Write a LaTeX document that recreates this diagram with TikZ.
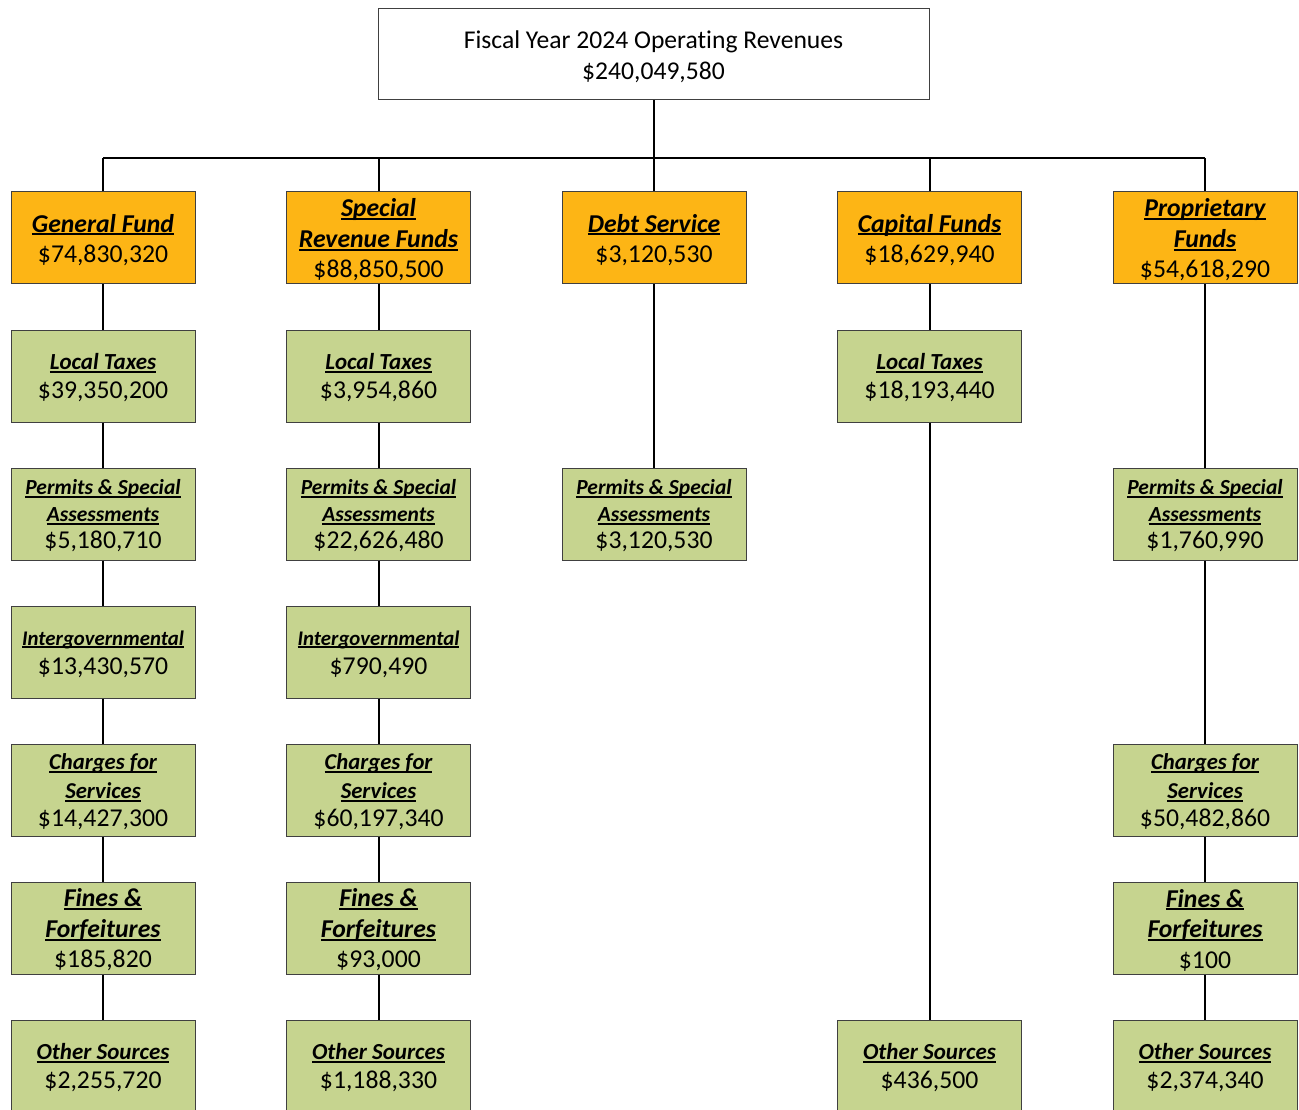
\documentclass[tikz,border=0pt]{standalone}
\usepackage{fontspec}
\setmainfont{Carlito}[Ligatures=NoCommon]
\definecolor{fundc}{HTML}{FDB515}
\definecolor{srcc}{HTML}{C6D48F}
\definecolor{edgec}{HTML}{404040}
\newcommand\myul[1]{\setbox0\hbox{#1}\rlap{\rule[-3.2pt]{\wd0}{2pt}}\box0}
\newcommand\hd[1]{{\bfseries\itshape\myul{#1}}}
\newcommand\tl[2]{{\fontsize{#1}{#1}\selectfont\hd{#2}}}
% \bx[style]{name}{x,y}{text}: box node plus its text, set 2px lower
\newcommand\bx[4][]{%
  \node[box,#1] (#2) at (#3) {};
  \node[box,#1,draw=none,fill=none,minimum width=0pt,minimum height=0pt] at ([yshift=-2pt]#2.center) {#4};}
\begin{document}
\begin{tikzpicture}[x=1pt,y=-1pt,
  box/.style={draw=edgec, line width=1pt, minimum width=184pt, minimum height=92pt, inner sep=0pt, align=center, font=\fontsize{25.7}{30.5}\selectfont},
  fund/.style={fill=fundc},
  src/.style={fill=srcc},
  sp/.style={font=\fontsize{25.7}{#1}\selectfont},
  link/.style={line width=2pt, black}]
\useasboundingbox (0,0) rectangle (1299,1110);
\fill[white] (0,0) rectangle (1299,1110);
% top
\bx[minimum width=551pt, minimum height=91pt, font=\fontsize{25.6}{31}\selectfont]{top}{653.5,54.5}{Fiscal Year 2024 Operating Revenues\\\$240,049,580}
\coordinate (busL) at (103,158);
\coordinate (busR) at (1205,158);
% funds
\bx[fund]{gf}{103,238}{\hd{General Fund}\\\$74,830,320}
\bx[fund]{sr}{378.5,238}{\hd{Special}\\\hd{Revenue Funds}\\\$88,850,500}
\bx[fund]{ds}{654,238}{\hd{Debt Service}\\\$3,120,530}
\bx[fund]{cf}{929.5,238}{\hd{Capital Funds}\\\$18,629,940}
\bx[fund]{pf}{1205,238}{\hd{Proprietary}\\\hd{Funds}\\\$54,618,290}
% general fund column
\bx[src,sp=29]{gf1}{103,376}{\tl{23}{Local Taxes}\\\$39,350,200}
\bx[src,sp=27]{gf2}{103,514}{\tl{21.5}{Permits \& Special}\\\tl{21.5}{Assessments}\\\$5,180,710}
\bx[src,sp=29]{gf3}{103,652}{\tl{20.8}{Intergovernmental}\\\$13,430,570}
\bx[src,sp=28.5]{gf4}{103,790}{\tl{22.7}{Charges for}\\\tl{22.7}{Services}\\\$14,427,300}
\bx[src]{gf5}{103,928}{\hd{Fines \&}\\\hd{Forfeitures}\\\$185,820}
\bx[src,sp=29]{gf6}{103,1066}{\tl{23}{Other Sources}\\\$2,255,720}
% special revenue column
\bx[src,sp=29]{sr1}{378.5,376}{\tl{23}{Local Taxes}\\\$3,954,860}
\bx[src,sp=27]{sr2}{378.5,514}{\tl{21.5}{Permits \& Special}\\\tl{21.5}{Assessments}\\\$22,626,480}
\bx[src,sp=29]{sr3}{378.5,652}{\tl{20.8}{Intergovernmental}\\\$790,490}
\bx[src,sp=28.5]{sr4}{378.5,790}{\tl{22.7}{Charges for}\\\tl{22.7}{Services}\\\$60,197,340}
\bx[src]{sr5}{378.5,928}{\hd{Fines \&}\\\hd{Forfeitures}\\\$93,000}
\bx[src,sp=29]{sr6}{378.5,1066}{\tl{23}{Other Sources}\\\$1,188,330}
% debt service column
\bx[src,sp=27]{ds2}{654,514}{\tl{21.5}{Permits \& Special}\\\tl{21.5}{Assessments}\\\$3,120,530}
% capital column
\bx[src,sp=29]{cf1}{929.5,376}{\tl{23}{Local Taxes}\\\$18,193,440}
\bx[src,sp=29]{cf6}{929.5,1066}{\tl{23}{Other Sources}\\\$436,500}
% proprietary column
\bx[src,sp=27]{pf2}{1205,514}{\tl{21.5}{Permits \& Special}\\\tl{21.5}{Assessments}\\\$1,760,990}
\bx[src,sp=28.5]{pf4}{1205,790}{\tl{22.7}{Charges for}\\\tl{22.7}{Services}\\\$50,482,860}
\bx[src]{pf5}{1205,928}{\hd{Fines \&}\\\hd{Forfeitures}\\\$100}
\bx[src,sp=29]{pf6}{1205,1066}{\tl{23}{Other Sources}\\\$2,374,340}
% connectors
\draw[link] (busL) -- (busR);
\draw[link] (top.south) -- (top.south |- busL);
\foreach \f in {gf,sr,ds,cf,pf} {\draw[link] (\f.north) -- (\f.north |- busL);}
\draw[link] (gf.south) -- (gf1.north);
\draw[link] (gf1.south) -- (gf2.north);
\draw[link] (gf2.south) -- (gf3.north);
\draw[link] (gf3.south) -- (gf4.north);
\draw[link] (gf4.south) -- (gf5.north);
\draw[link] (gf5.south) -- (gf6.north);
\draw[link] (sr.south) -- (sr1.north);
\draw[link] (sr1.south) -- (sr2.north);
\draw[link] (sr2.south) -- (sr3.north);
\draw[link] (sr3.south) -- (sr4.north);
\draw[link] (sr4.south) -- (sr5.north);
\draw[link] (sr5.south) -- (sr6.north);
\draw[link] (ds.south) -- (ds2.north);
\draw[link] (cf.south) -- (cf1.north);
\draw[link] (cf1.south) -- (cf6.north);
\draw[link] (pf.south) -- (pf2.north);
\draw[link] (pf2.south) -- (pf4.north);
\draw[link] (pf4.south) -- (pf5.north);
\draw[link] (pf5.south) -- (pf6.north);
\end{tikzpicture}
\end{document}
